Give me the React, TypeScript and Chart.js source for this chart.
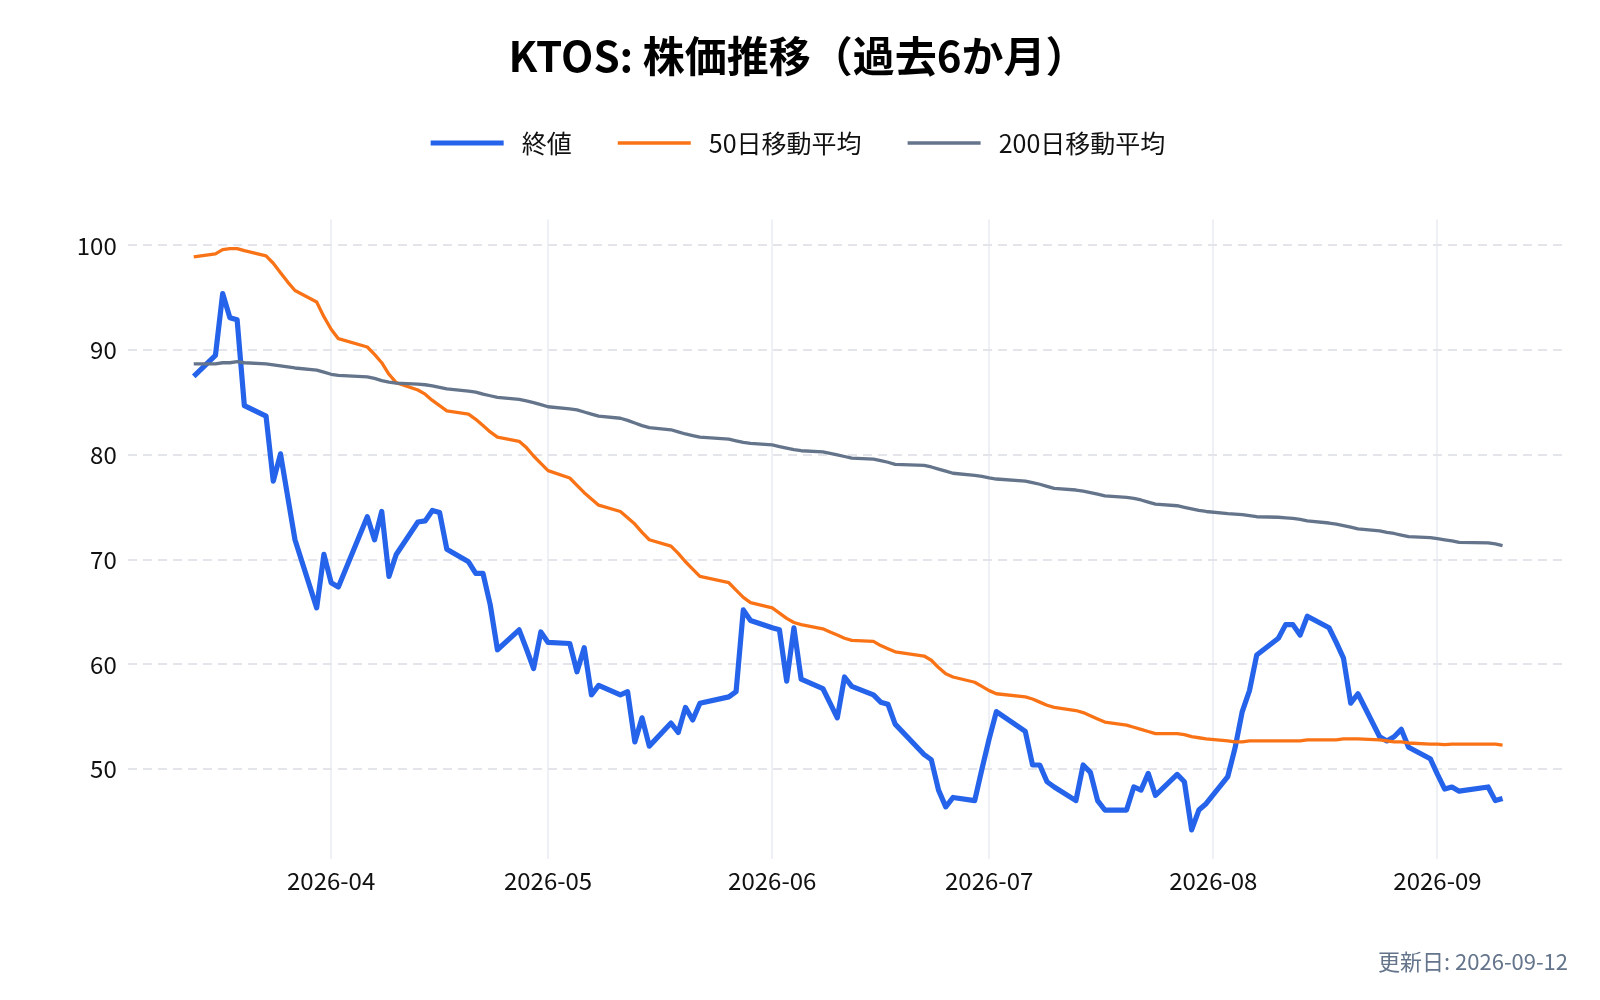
import { useEffect, useRef } from "react"
import { Chart, registerables } from "chart.js"

Chart.register(...registerables)

// trading days shown on the chart
const dates = [
    "2026-03-13", "2026-03-16", "2026-03-17", "2026-03-18", "2026-03-19", "2026-03-20",
    "2026-03-23", "2026-03-24", "2026-03-25", "2026-03-26", "2026-03-27", "2026-03-30", "2026-03-31",
    "2026-04-01", "2026-04-02", "2026-04-06", "2026-04-07", "2026-04-08", "2026-04-09", "2026-04-10",
    "2026-04-13", "2026-04-14", "2026-04-15", "2026-04-16", "2026-04-17", "2026-04-20", "2026-04-21",
    "2026-04-22", "2026-04-23", "2026-04-24", "2026-04-27", "2026-04-28", "2026-04-29", "2026-04-30",
    "2026-05-01", "2026-05-04", "2026-05-05", "2026-05-06", "2026-05-07", "2026-05-08", "2026-05-11",
    "2026-05-12", "2026-05-13", "2026-05-14", "2026-05-15", "2026-05-18", "2026-05-19", "2026-05-20",
    "2026-05-21", "2026-05-22", "2026-05-26", "2026-05-27", "2026-05-28", "2026-05-29",
    "2026-06-01", "2026-06-02", "2026-06-03", "2026-06-04", "2026-06-05", "2026-06-08", "2026-06-09",
    "2026-06-10", "2026-06-11", "2026-06-12", "2026-06-15", "2026-06-16", "2026-06-17", "2026-06-18",
    "2026-06-22", "2026-06-23", "2026-06-24", "2026-06-25", "2026-06-26", "2026-06-29", "2026-06-30",
    "2026-07-01", "2026-07-02", "2026-07-06", "2026-07-07", "2026-07-08", "2026-07-09", "2026-07-10",
    "2026-07-13", "2026-07-14", "2026-07-15", "2026-07-16", "2026-07-17", "2026-07-20", "2026-07-21",
    "2026-07-22", "2026-07-23", "2026-07-24", "2026-07-27", "2026-07-28", "2026-07-29", "2026-07-30",
    "2026-07-31",
    "2026-08-03", "2026-08-04", "2026-08-05", "2026-08-06", "2026-08-07", "2026-08-10", "2026-08-11",
    "2026-08-12", "2026-08-13", "2026-08-14", "2026-08-17", "2026-08-18", "2026-08-19", "2026-08-20",
    "2026-08-21", "2026-08-24", "2026-08-25", "2026-08-26", "2026-08-27", "2026-08-28", "2026-08-31",
    "2026-09-01", "2026-09-02", "2026-09-03", "2026-09-04", "2026-09-08", "2026-09-09", "2026-09-10",
]

const closes = [
    87.5, 89.5, 95.4, 93.1, 92.9, 84.7,
    83.7, 77.5, 80.1, 76.0, 71.9, 65.4, 70.5,
    67.8, 67.4, 74.1, 71.9, 74.6, 68.4, 70.5,
    73.6, 73.7, 74.7, 74.5, 71.0, 69.8, 68.7,
    68.7, 65.7, 61.4, 63.3, 61.5, 59.6, 63.1,
    62.1, 62.0, 59.3, 61.6, 57.1, 58.0, 57.1,
    57.4, 52.6, 54.9, 52.2, 54.4, 53.5, 55.9,
    54.7, 56.3, 56.9, 57.4, 65.2, 64.2,
    63.5, 63.3, 58.4, 63.5, 58.6, 57.7, 56.3,
    54.9, 58.8, 57.9, 57.1, 56.4, 56.2, 54.3,
    51.4, 50.9, 48.0, 46.4, 47.3, 47.0, 50.0,
    52.9, 55.5, 53.6, 50.4, 50.4, 48.8, 48.3,
    47.0, 50.4, 49.7, 47.0, 46.1, 46.1, 48.3,
    48.0, 49.6, 47.5, 49.5, 48.8, 44.2, 46.1,
    46.7,
    49.3, 52.0, 55.5, 57.5, 60.9, 62.5, 63.8,
    63.8, 62.8, 64.6, 63.5, 62.1, 60.6, 56.3,
    57.2, 53.1, 52.7, 53.1, 53.8, 52.1, 51.0,
    49.5, 48.1, 48.3, 47.9, 48.3, 47.0, 47.2,
]

const ma50 = [
    98.9, 99.2, 99.6, 99.7, 99.7, 99.5,
    99.0, 98.3, 97.4, 96.5, 95.7, 94.6, 93.2,
    92.0, 91.1, 90.3, 89.6, 88.8, 87.7, 86.9,
    86.2, 85.8, 85.2, 84.7, 84.2, 83.9, 83.4,
    82.8, 82.2, 81.7, 81.3, 80.7, 79.9, 79.2,
    78.5, 77.8, 77.1, 76.4, 75.8, 75.2, 74.6,
    74.0, 73.4, 72.6, 71.9, 71.3, 70.6, 69.8,
    69.1, 68.4, 67.8, 67.1, 66.4, 65.9,
    65.4, 64.9, 64.4, 64.0, 63.8, 63.4, 63.1,
    62.8, 62.5, 62.3, 62.2, 61.8, 61.5, 61.2,
    60.8, 60.4, 59.7, 59.1, 58.8, 58.3, 57.9,
    57.5, 57.2, 56.9, 56.7, 56.4, 56.1, 55.9,
    55.6, 55.4, 55.1, 54.8, 54.5, 54.2, 54.0,
    53.8, 53.6, 53.4, 53.4, 53.3, 53.1, 53.0,
    52.9,
    52.7, 52.6, 52.6, 52.7, 52.7, 52.7, 52.7,
    52.7, 52.7, 52.8, 52.8, 52.8, 52.9, 52.9,
    52.9, 52.8, 52.7, 52.6, 52.6, 52.5, 52.4,
    52.4, 52.35, 52.4, 52.4, 52.4, 52.4, 52.3,
]

const ma200 = [
    88.7, 88.7, 88.8, 88.8, 88.9, 88.8,
    88.7, 88.6, 88.5, 88.4, 88.3, 88.1, 87.9,
    87.7, 87.6, 87.45, 87.3, 87.1, 86.95, 86.85,
    86.75, 86.7, 86.6, 86.45, 86.3, 86.1, 86.0,
    85.8, 85.65, 85.5, 85.3, 85.15, 85.0, 84.8,
    84.6, 84.4, 84.3, 84.1, 83.9, 83.7, 83.5,
    83.3, 83.05, 82.8, 82.6, 82.4, 82.2, 82.0,
    81.85, 81.7, 81.5, 81.35, 81.2, 81.1,
    80.95, 80.8, 80.65, 80.5, 80.4, 80.3, 80.15,
    80.0, 79.85, 79.7, 79.6, 79.45, 79.3, 79.1,
    79.0, 78.85, 78.65, 78.45, 78.25, 78.05, 77.95,
    77.8, 77.7, 77.5, 77.35, 77.2, 77.0, 76.8,
    76.65, 76.55, 76.4, 76.25, 76.1, 75.95, 75.85,
    75.7, 75.5, 75.3, 75.15, 75.0, 74.85, 74.7,
    74.6,
    74.4, 74.35, 74.3, 74.2, 74.1, 74.05, 74.0,
    73.95, 73.85, 73.7, 73.5, 73.4, 73.25, 73.1,
    72.95, 72.75, 72.6, 72.5, 72.35, 72.2, 72.1,
    72.0, 71.9, 71.8, 71.65, 71.6, 71.5, 71.35,
]

const seriesNames = ["終値", "50日移動平均", "200日移動平均"]
const monthTicks = ["2026-04-01", "2026-05-01", "2026-06-01", "2026-07-01", "2026-08-01", "2026-09-01"]
const monthLabels = ["2026-04", "2026-05", "2026-06", "2026-07", "2026-08", "2026-09"]
const yTicks = [50, 60, 70, 80, 90, 100]

const chartTitle = "KTOS: 株価推移（過去6か月）"
const updatedText = "更新日: 2026-09-12"

const FONT = "'Noto Sans CJK JP', 'Noto Sans', sans-serif"

const toDay = (s: string) => {
    const [y, m, d] = s.split("-").map(Number)
    return Date.UTC(y, m - 1, d) / 86400000
}

// extra room between the legend and the plot
const legendMargin = {
    id: "legendMargin",
    beforeInit(chart: any) {
        const originalFit = chart.legend.fit
        chart.legend.fit = function fit() {
            originalFit.bind(chart.legend)()
            this.height += 54
        }
    },
}

const PriceChart = () => {
    const canvasRef = useRef<HTMLCanvasElement | null>(null)

    useEffect(() => {
        document.body.style.margin = "0"
        if (!canvasRef.current) return

        const days = dates.map(toDay)
        const xSpan = days[days.length - 1] - days[0]
        const allY = [...closes, ...ma50, ...ma200]
        const yLo = Math.min(...allY)
        const yHi = Math.max(...allY)
        const ySpan = yHi - yLo

        const toPoints = (values: number[]) => values.map((v, i) => ({ x: days[i], y: v }))

        const chart = new Chart(canvasRef.current, {
            type: "line",
            data: {
                datasets: [
                    {
                        label: seriesNames[0],
                        data: toPoints(closes),
                        borderColor: "#2563eb",
                        backgroundColor: "#2563eb",
                        borderWidth: 5.2,
                        order: 3,
                    },
                    {
                        label: seriesNames[1],
                        data: toPoints(ma50),
                        borderColor: "#f97316",
                        backgroundColor: "#f97316",
                        borderWidth: 3.3,
                        order: 2,
                    },
                    {
                        label: seriesNames[2],
                        data: toPoints(ma200),
                        borderColor: "#64748b",
                        backgroundColor: "#64748b",
                        borderWidth: 3.3,
                        order: 1,
                    },
                ],
            },
            options: {
                responsive: true,
                maintainAspectRatio: false,
                animation: false,
                layout: { padding: { top: 8, left: 28, right: 32, bottom: 8 } },
                elements: {
                    point: { radius: 0 },
                    line: { tension: 0, borderJoinStyle: "round" },
                },
                plugins: {
                    title: {
                        display: true,
                        text: chartTitle,
                        color: "#000",
                        font: { family: FONT, size: 42, weight: "bold" },
                        padding: { top: 22.8, bottom: 3.3 },
                    },
                    legend: {
                        position: "top",
                        labels: {
                            usePointStyle: true,
                            pointStyle: "line",
                            pointStyleWidth: 73,
                            padding: 46,
                            color: "#111",
                            font: { family: FONT, size: 25 },
                            sort: (a: any, b: any) => a.datasetIndex - b.datasetIndex,
                            generateLabels: (chart: any) =>
                                Chart.defaults.plugins.legend.labels
                                    .generateLabels(chart)
                                    .map((item: any) => ({ ...item, text: " " + item.text })),
                        },
                    },
                    subtitle: {
                        display: true,
                        text: updatedText,
                        position: "bottom",
                        align: "end",
                        color: "#64748b",
                        font: { family: FONT, size: 22 },
                        padding: { top: 0, bottom: 17 },
                    },
                    tooltip: { enabled: false },
                },
                scales: {
                    x: {
                        type: "linear",
                        min: days[0] - xSpan * 0.05,
                        max: days[days.length - 1] + xSpan * 0.05,
                        afterBuildTicks: (scale: any) => {
                            scale.ticks = monthTicks.map((d) => ({ value: toDay(d) }))
                        },
                        afterFit: (scale: any) => {
                            scale.height = 89.6
                        },
                        ticks: {
                            autoSkip: false,
                            maxRotation: 0,
                            padding: 7.6,
                            color: "#111",
                            font: { family: FONT, size: 24 },
                            callback: (_v: any, i: number) => monthLabels[i],
                        },
                        grid: { color: "#edf0f5", lineWidth: 2, drawTicks: false },
                        border: { display: false },
                    },
                    y: {
                        min: yLo - ySpan * 0.05,
                        max: yHi + ySpan * 0.05,
                        afterBuildTicks: (scale: any) => {
                            scale.ticks = yTicks.map((v) => ({ value: v }))
                        },
                        afterFit: (scale: any) => {
                            scale.width = 100.3
                        },
                        ticks: {
                            padding: 11.6,
                            color: "#111",
                            font: { family: FONT, size: 24 },
                        },
                        grid: { color: "#e3e5ea", lineWidth: 2, drawTicks: false },
                        border: { display: false, dash: [9, 6] },
                    },
                },
            },
            plugins: [legendMargin],
        })

        return () => {
            chart.destroy()
        }
    }, [])

    return (
        <div style={{ width: 1600, height: 1000, position: "relative", background: "#fff" }}>
            <canvas ref={canvasRef}></canvas>
        </div>
    )
}

export default function App() {
    return <PriceChart />
}
